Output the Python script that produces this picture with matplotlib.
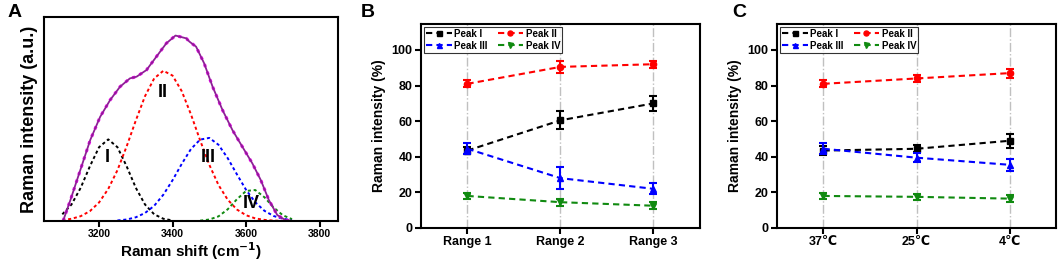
import matplotlib
matplotlib.use('Agg')
import matplotlib.pyplot as plt
import numpy as np

plt.rcParams['font.family'] = ['Liberation Sans', 'DejaVu Sans']
plt.rcParams['font.weight'] = 'bold'
plt.rcParams['axes.labelweight'] = 'bold'

# panel A: fitted Raman band (a.u.)
env_x = [3102, 3122, 3149, 3176, 3203, 3230, 3257, 3284, 3302, 3329, 3356, 3383,
         3408, 3437, 3446, 3464, 3486, 3509, 3536, 3563, 3590, 3617, 3640, 3662,
         3685, 3707, 3730]
env_y = [0.0, 0.113, 0.275, 0.437, 0.562, 0.652, 0.724, 0.769, 0.778, 0.814, 0.886, 0.958,
         1.0, 0.985, 0.967, 0.94, 0.85, 0.724, 0.598, 0.49, 0.40, 0.311, 0.221, 0.113,
         0.032, 0.005, 0.0]

p1_x = [3100, 3125, 3150, 3175, 3200, 3225, 3250, 3275, 3300, 3325, 3350, 3375, 3400]
p1_y = [0.036, 0.089, 0.179, 0.295, 0.398, 0.44, 0.398, 0.295, 0.179, 0.089, 0.036, 0.012, 0.003]

p2_x = [3100, 3125, 3150, 3175, 3200, 3225, 3250, 3275, 3300, 3325, 3350, 3375, 3400,
        3425, 3450, 3475, 3500, 3525, 3550, 3575, 3600, 3625, 3650, 3675, 3700]
p2_y = [0.005, 0.012, 0.026, 0.053, 0.100, 0.173, 0.274, 0.402, 0.542, 0.673, 0.769, 0.81, 0.784,
        0.700, 0.575, 0.435, 0.303, 0.194, 0.115, 0.062, 0.031, 0.014, 0.006, 0.002, 0.001]

p3_x = [3250, 3275, 3300, 3325, 3350, 3375, 3400, 3425, 3450, 3475, 3500, 3525, 3550,
        3575, 3600, 3625, 3650, 3675, 3700, 3725]
p3_y = [0.003, 0.008, 0.020, 0.043, 0.082, 0.142, 0.220, 0.308, 0.388, 0.439, 0.448, 0.411, 0.339,
        0.252, 0.168, 0.101, 0.055, 0.027, 0.012, 0.005]

p4_x = [3475, 3500, 3525, 3550, 3575, 3600, 3625, 3650, 3675, 3700, 3725]
p4_y = [0.002, 0.008, 0.025, 0.063, 0.117, 0.162, 0.167, 0.128, 0.073, 0.031, 0.010]

peak_names = ['I', 'II', 'III', 'IV']
peak_label_x = [3222, 3373, 3497, 3614]
peak_label_y = [0.345, 0.695, 0.345, 0.092]

# panels B and C: relative intensities (%)
range_labels = ['Range 1', 'Range 2', 'Range 3']
b_mean = {
    'Peak I': [43.5, 60.5, 70.0],
    'Peak II': [81.0, 90.5, 92.0],
    'Peak III': [44.5, 28.0, 22.0],
    'Peak IV': [18.0, 14.5, 12.5],
}
b_err = {
    'Peak I': [2.0, 5.0, 4.0],
    'Peak II': [2.0, 3.5, 2.0],
    'Peak III': [3.0, 6.0, 3.0],
    'Peak IV': [1.5, 2.0, 2.0],
}

temp_labels = ['37\u2103', '25\u2103', '4\u2103']
c_mean = {
    'Peak I': [43.5, 44.5, 49.0],
    'Peak II': [81.0, 84.0, 87.0],
    'Peak III': [44.5, 39.5, 35.5],
    'Peak IV': [18.0, 17.5, 16.5],
}
c_err = {
    'Peak I': [2.5, 2.0, 4.0],
    'Peak II': [2.0, 2.0, 2.5],
    'Peak III': [3.0, 2.5, 3.5],
    'Peak IV': [1.5, 1.5, 2.0],
}

series = ['Peak I', 'Peak II', 'Peak III', 'Peak IV']
colors = ['black', '#ff0000', '#0000ff', '#108a10']
markers = ['s', 'o', '^', 'v']

fig = plt.figure(figsize=(10.59, 2.63), dpi=100)

# ---- panel A ----
axA = fig.add_axes([0.0415, 0.1597, 0.2776, 0.7757])
dot = (0, (1.6, 1.4))
axA.plot(p1_x, p1_y, color='black', lw=1.4, ls=dot)
axA.plot(p2_x, p2_y, color='#ff0000', lw=1.4, ls=dot)
axA.plot(p3_x, p3_y, color='#0000ff', lw=1.4, ls=dot)
axA.plot(p4_x, p4_y, color='#108a10', lw=1.4, ls=dot)
axA.plot(env_x, env_y, color='#ee00ee', lw=2.2, ls=':')
axA.plot(env_x, env_y, color='#8e1f96', lw=1.3)
for name, tx, ty in zip(peak_names, peak_label_x, peak_label_y):
    axA.text(tx, ty, name, ha='center', va='center', fontsize=13, fontweight='bold')
axA.set_xlim(3050, 3850)
axA.set_ylim(0, 1.1)
axA.set_xticks([3200, 3400, 3600, 3800])
axA.set_yticks([])
axA.tick_params(axis='x', direction='out', length=4, width=1.5, labelsize=7.5, pad=2)
axA.set_xlabel('Raman shift (cm$^{\\mathbf{-1}}$)', fontsize=11, labelpad=1)
axA.set_ylabel('Raman intensity (a.u.)', fontsize=13, labelpad=4)
for s in axA.spines.values():
    s.set_linewidth(1.5)
fig.text(0.007, 0.985, 'A', fontsize=14, fontweight='bold', va='top')


def line_panel(ax, labels, means, errs):
    pos = np.arange(1, len(labels) + 1)
    for p in pos:
        ax.axvline(p, color='#c0c0c0', lw=1.0, ls='-.', zorder=0)
    handles = []
    for name, col, mk in zip(series, colors, markers):
        ax.errorbar(pos, means[name], yerr=errs[name], fmt='none', ecolor=col,
                    elinewidth=1.5, capsize=3, capthick=1.5)
        h, = ax.plot(pos, means[name], color=col, lw=1.5, ls=(0, (3, 2)),
                     marker=mk, markersize=4.5, label=name)
        handles.append(h)
    ax.set_xlim(0.5, 3.5)
    ax.set_ylim(0, 114.6)
    ax.set_xticks(pos)
    ax.set_xticklabels(labels)
    ax.set_yticks([0, 20, 40, 60, 80, 100])
    ax.tick_params(direction='out', length=4, width=1.5, labelsize=9, pad=2)
    ax.set_ylabel('Raman intensity (%)', fontsize=10, labelpad=4)
    for s in ax.spines.values():
        s.set_linewidth(1.5)
    order = [0, 2, 1, 3]
    leg = ax.legend([handles[i] for i in order], [series[i] for i in order],
                    ncol=2, loc='upper left', bbox_to_anchor=(0.005, 0.995),
                    fontsize=7, frameon=True, fancybox=False, borderpad=0.2,
                    handlelength=2.6, handletextpad=0.3, columnspacing=1.0,
                    labelspacing=0.2, borderaxespad=0.2, markerscale=0.8)
    leg.get_frame().set_edgecolor('black')
    leg.get_frame().set_linewidth(0.8)
    for t in leg.get_texts():
        t.set_fontweight('bold')


axB = fig.add_axes([0.3975, 0.1331, 0.2635, 0.7757])
line_panel(axB, range_labels, b_mean, b_err)
fig.text(0.341, 0.985, 'B', fontsize=14, fontweight='bold', va='top')

axC = fig.add_axes([0.7337, 0.1331, 0.2635, 0.7757])
line_panel(axC, temp_labels, c_mean, c_err)
fig.text(0.691, 0.985, 'C', fontsize=14, fontweight='bold', va='top')

fig.savefig('out.png', dpi=100)
